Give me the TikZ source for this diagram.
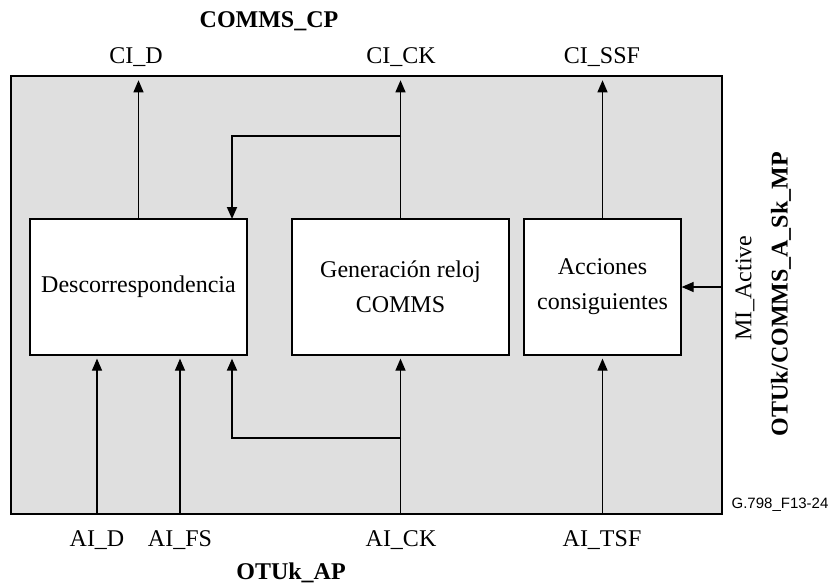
\documentclass[tikz,border=0pt]{standalone}
\usepackage{fontspec}
\setmainfont{Liberation Serif}
\newfontfamily\figfont{Liberation Sans}
\usepackage{tikz}
\usetikzlibrary{arrows.meta, positioning, calc}
\definecolor{framegray}{HTML}{DFDFDF}

\begin{document}
\begin{tikzpicture}[
  x=0.5pt, y=-0.5pt,
  block/.style={draw, fill=white, line width=0.6pt, minimum height=68pt,
                font=\fontsize{12}{17.5}\selectfont, align=center, inner sep=0pt},
  sig/.style={font=\fontsize{12}{14}\selectfont, inner sep=1pt},
  title/.style={font=\fontsize{12}{14}\selectfont\bfseries, inner sep=1pt},
  arr/.style={-{Triangle[length=6pt, width=5pt]}, line width=0.6pt},
  barr/.style={-{Triangle[length=6pt, width=5pt]}, line width=0.9pt}
]
  \useasboundingbox (0,0) rectangle (833,583);

  % Frame of the function
  \node[draw, fill=framegray, line width=0.7pt, minimum width=355.5pt,
        minimum height=219pt, inner sep=0pt] (frame) at (366.5,295) {};

  % Processes
  \node[block, minimum width=108.5pt] (desc) at (138.5,287) {Descorrespondencia};
  \node[block, minimum width=108.5pt] (gen) at (400.5,287) {Generación reloj\\COMMS};
  \node[block, minimum width=78.5pt] (acc) at (602.5,287) {Acciones\\consiguientes};

  % Top signals
  \node[title] (cp) at (269,21) {COMMS\_CP};
  \node[sig] (cid) at (136,57) {CI\_D};
  \node[sig] (cick) at (401,57) {CI\_CK};
  \node[sig] (cissf) at (602,57) {CI\_SSF};

  % Bottom signals
  \node[sig] (aid) at (97,540) {AI\_D};
  \node[sig] (aifs) at (180,540) {AI\_FS};
  \node[sig] (aick) at (401,540) {AI\_CK};
  \node[sig] (aitsf) at (602,540) {AI\_TSF};
  \node[title] (ap) at (291,573) {OTUk\_AP};

  % Management side
  \node[sig, rotate=90] (mia) at (745,288) {MI\_Active};
  \node[title, rotate=90] (mp) at (781,294) {OTUk/COMMS\_A\_Sk\_MP};
  \node[font=\figfont\fontsize{7.5}{9}\selectfont, inner sep=0pt] (ref) at (780,505) {G.798\_F13-24};

  % Upward outputs
  \draw[arr] (desc.north) -- ($(desc.north |- frame.north)+(0,5)$);
  \draw[arr] (gen.north) -- ($(gen.north |- frame.north)+(0,5)$);
  \draw[arr] (acc.north) -- ($(acc.north |- frame.north)+(0,5)$);

  % Clock feedback to Descorrespondencia
  \coordinate (tapt) at (401,136);
  \draw[barr] (tapt) -| (232,219);

  % Inputs from below
  \draw[arr] (97,514) -- ($(97,0 |- desc.south)+(0,3)$);
  \draw[arr] (180,514) -- ($(180,0 |- desc.south)+(0,3)$);
  \draw[arr] (gen.south |- frame.south) -- ($(gen.south)+(0,3)$);
  \draw[arr] (acc.south |- frame.south) -- ($(acc.south)+(0,3)$);
  \coordinate (tapb) at (401,438);
  \draw[barr] (tapb) -| ($(232,0 |- desc.south)+(0,3)$);

  % MI_Active input
  \draw[arr] (frame.east |- acc.east) -- (acc.east);
\end{tikzpicture}
\end{document}
